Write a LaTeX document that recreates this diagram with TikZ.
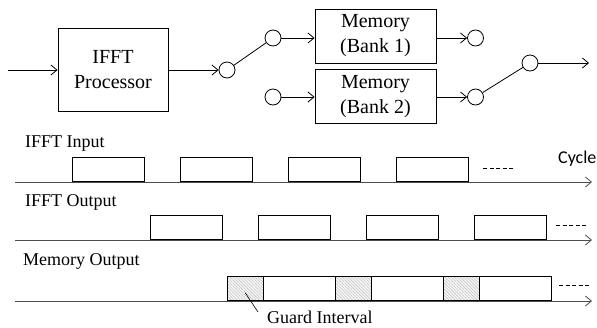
\documentclass[tikz,border=0pt]{standalone}
\usepackage{fontspec}
\setmainfont{Liberation Serif}
\newfontfamily\cyclefont{Carlito}
\usetikzlibrary{arrows.meta,patterns.meta,calc}

\begin{document}
\begin{tikzpicture}[x=1pt,y=-1pt,
  block/.style={draw, line width=0.9pt, align=center, inner sep=0pt,
    font=\fontsize{20}{25}\selectfont},
  port/.style={circle, draw, line width=0.8pt, minimum size=16pt, inner sep=0pt},
  barb/.tip={Straight Barb[length=6pt,width=10pt,line width=0.8pt]},
  arr/.style={line width=0.8pt, -barb},
  wire/.style={line width=0.8pt},
  axisline/.style={line width=0.9pt, draw=black!70, -barb},
  slot/.style={draw, line width=0.9pt, minimum height=24pt, inner sep=0pt,
    anchor=south west},
  guardslot/.style={slot, preaction={fill=gray!8},
    pattern={Lines[angle=-45,distance=2.2pt,line width=0.4pt]},
    pattern color=gray!55},
  lbl/.style={anchor=base west, inner sep=0pt, font=\fontsize{18}{21}\selectfont},
  more/.style={line width=0.8pt, dash pattern=on 4pt off 2.6pt}
]
\useasboundingbox (0,0) rectangle (597,327);

% ---- block diagram ----
\coordinate (src) at (8,70);
\node[block, minimum width=110pt, minimum height=83pt] (ifft) at (113,70) {IFFT\\Processor};
\node[port] (c1) at (227,70) {};
\node[port] (c2) at (273,38) {};
\node[port] (c3) at (273,97) {};
\node[block, minimum width=121pt, minimum height=54pt] (bank1) at (375.5,36) {Memory\\(Bank 1)};
\node[block, minimum width=121pt, minimum height=54pt] (bank2) at (375.5,96.5) {Memory\\(Bank 2)};
\node[port] (c4) at (475.5,38) {};
\node[port] (c5) at (475.5,97) {};
\node[port] (c6) at (530,63) {};
\coordinate (sink) at (589,63);

\draw[arr] (src) -- (ifft.west |- src);
\draw[arr] (ifft.east |- c1) -- (c1);
\draw[wire] (c1) -- (c2);
\draw[arr] (c2) -- (c2 -| bank1.west);
\draw[arr] (c3) -- (c3 -| bank2.west);
\draw[arr] (bank1.east |- c4) -- (c4);
\draw[arr] (bank2.east |- c5) -- (c5);
\draw[wire] (c5) -- (c6);
\draw[arr] (c6) -- (sink);

% ---- timing: IFFT input ----
\node[lbl] (tin) at (25,147.3) {IFFT Input};
\coordinate (a1s) at (15,182);
\coordinate (a1e) at (592,182);
\draw[axisline] (a1s) -- (a1e);
\foreach \i/\x in {1/72,2/180,3/288,4/396}
  \node[slot, minimum width=72pt] (in\i) at (\x,182) {};
\draw[more] (483,168) -- (514,168);
\node[anchor=base west, inner sep=0pt, font=\cyclefont\fontsize{18}{21}\selectfont]
  (cyc) at (558,163.5) {Cycle};

% ---- timing: IFFT output ----
\node[lbl] (tout) at (25,206.7) {IFFT Output};
\coordinate (a2s) at (15,240);
\coordinate (a2e) at (592,240);
\draw[axisline] (a2s) -- (a2e);
\foreach \i/\x in {1/150,2/258,3/366,4/474}
  \node[slot, minimum width=72pt] (out\i) at (\x,240) {};
\draw[more] (556,225.5) -- (588,225.5);

% ---- timing: memory output ----
\node[lbl] (tmem) at (23,265) {Memory Output};
\coordinate (a3s) at (15,301);
\coordinate (a3e) at (592,301);
\draw[axisline] (a3s) -- (a3e);
\foreach \i/\x in {1/227,2/335,3/443} {
  \node[guardslot, minimum width=36pt] (g\i) at (\x,301) {};
  \node[slot, minimum width=72pt] (d\i) at (\x+36,301) {};
}
\draw[more] (559,285) -- (591,285);

% guard interval callout
\node[lbl] (gi) at (267,323) {Guard Interval};
\coordinate (gtip) at (258,312);
\draw[line width=0.6pt] ($(g1.center)+(0,4)$) -- (gtip);
\end{tikzpicture}
\end{document}
